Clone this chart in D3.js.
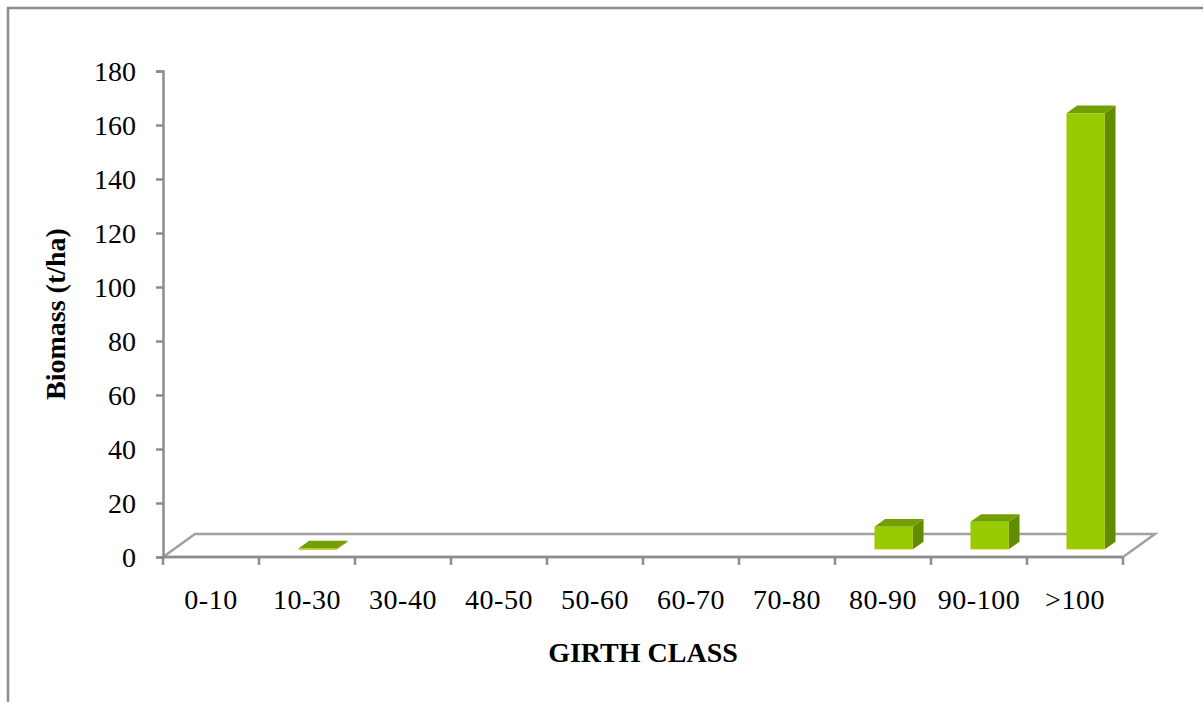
<!DOCTYPE html>
<html>
<head>
<meta charset="utf-8">
<script src="https://cdn.jsdelivr.net/npm/d3@7"></script>
<style>
  html, body { margin: 0; padding: 0; background: #fff; }
  svg { display: block; }
  text { font-family: "Liberation Serif", "Times New Roman", serif; }
</style>
</head>
<body>
<svg id="chart" width="1203" height="702"></svg>
<script>
// ---- data ----
const categories = ["0-10", "10-30", "30-40", "40-50", "50-60", "60-70", "70-80", "80-90", "90-100", ">100"];
const biomass = [0, 0.3, 0, 0, 0, 0, 0, 8.4, 10.2, 161.5];
const yTicks = [0, 20, 40, 60, 80, 100, 120, 140, 160, 180];
const xTitle = "GIRTH CLASS";
const yTitle = "Biomass (t/ha)";

// ---- layout ----
const svg = d3.select("#chart");
const W = 1203, H = 702;
const plotL = 163, plotR = 1123, plotT = 71, plotB = 557;
const depthX = 32, depthY = -23;          // full floor depth offset
const d0 = 1 / 3, d1 = 2 / 3;             // bar depth span (fraction)

const x = d3.scaleBand().domain(categories).range([plotL, plotR]).padding(0);
const y = d3.scaleLinear().domain([0, 180]).range([plotB, plotT]);
const barW = x.bandwidth() / 2.5;

// outer frame (left & top)
svg.append("path")
  .attr("d", `M8,${H} L8,8 L${W},8`)
  .attr("fill", "none").attr("stroke", "#8c8c8c").attr("stroke-width", 2.5);

// floor
const floorColor = "#a0a0a0";
svg.append("path")
  .attr("d", `M${plotL},${plotB} L${plotL + depthX},${plotB + depthY} L${plotR + depthX},${plotB + depthY} L${plotR},${plotB} Z`)
  .attr("fill", "none").attr("stroke", floorColor).attr("stroke-width", 2.5);

// bars (3D)
const bars = svg.append("g");
categories.forEach((c, i) => {
  const v = biomass[i];
  if (!(v > 0)) return;
  const cx = x(c) + x.bandwidth() / 2;
  const ox = depthX * d0, oy = depthY * d0;
  const ddx = depthX * (d1 - d0), ddy = depthY * (d1 - d0);
  const x0 = cx + ox - barW / 2, x1 = cx + ox + barW / 2;
  const yb = y(0) + oy, yt = y(v) + oy;
  bars.append("path")
    .attr("d", `M${x1},${yb} L${x1 + ddx},${yb + ddy} L${x1 + ddx},${yt + ddy} L${x1},${yt} Z`)
    .attr("fill", "#628c00");
  bars.append("path")
    .attr("d", `M${x0},${yt} L${x0 + ddx},${yt + ddy} L${x1 + ddx},${yt + ddy} L${x1},${yt} Z`)
    .attr("fill", "#749f00");
  bars.append("rect")
    .attr("x", x0).attr("y", yt)
    .attr("width", barW).attr("height", Math.max(yb - yt, 1.2))
    .attr("fill", "#99cc00");
});

// y axis
const yAxis = d3.axisLeft(y).tickValues(yTicks).tickSize(7).tickPadding(20).tickFormat(d3.format("d"));
const gy = svg.append("g").attr("transform", `translate(${plotL},0)`).call(yAxis);
gy.select(".domain").attr("stroke", "#8c8c8c").attr("stroke-width", 2.5);
gy.selectAll(".tick line").attr("stroke", "#8c8c8c").attr("stroke-width", 2.5);
gy.selectAll(".tick text")
  .attr("font-size", 28).attr("fill", "#000")
  .style("font-family", '"Liberation Serif", "Times New Roman", serif')
  .attr("dy", "0.34em");

// x axis line + boundary ticks
svg.append("line")
  .attr("x1", plotL).attr("x2", plotR).attr("y1", plotB).attr("y2", plotB)
  .attr("stroke", "#8c8c8c").attr("stroke-width", 2.5);
const bounds = categories.map(c => x(c)).concat([x(categories[categories.length - 1]) + x.bandwidth()]);
svg.append("g").selectAll("line").data(bounds).join("line")
  .attr("x1", d => d).attr("x2", d => d)
  .attr("y1", plotB).attr("y2", plotB + 8)
  .attr("stroke", "#8c8c8c").attr("stroke-width", 2.5);

// x labels
const xAxis = d3.axisBottom(x).tickSize(0).tickPadding(0);
const gx = svg.append("g").attr("transform", `translate(0,${plotB})`).call(xAxis);
gx.select(".domain").remove();
gx.selectAll(".tick text")
  .attr("y", 52).attr("dy", 0)
  .attr("font-size", 28).attr("fill", "#000")
  .style("font-family", '"Liberation Serif", "Times New Roman", serif')
  .style("letter-spacing", "0.5px");

// titles
svg.append("text")
  .attr("x", 643).attr("y", 662)
  .attr("text-anchor", "middle")
  .attr("font-size", 28).attr("font-weight", "bold").attr("fill", "#000")
  .text(xTitle);
svg.append("text")
  .attr("transform", "translate(65,314) rotate(-90)")
  .attr("text-anchor", "middle")
  .attr("font-size", 28).attr("font-weight", "bold").attr("fill", "#000")
  .text(yTitle);
</script>
</body>
</html>
